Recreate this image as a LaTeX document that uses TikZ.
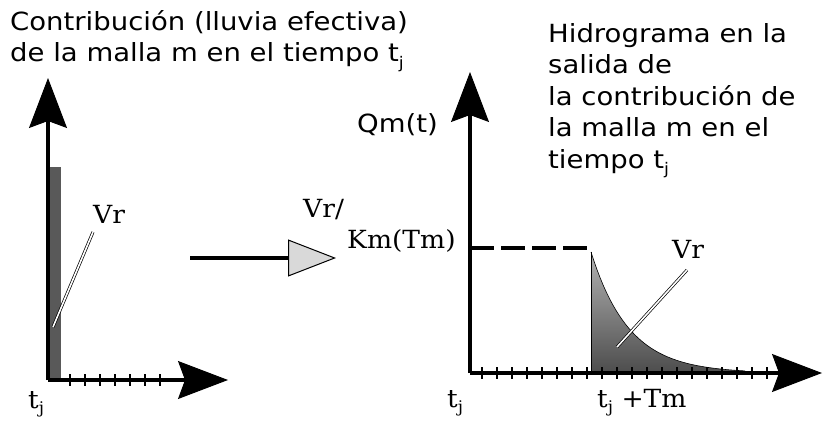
\documentclass[tikz,border=0pt]{standalone}
\usepackage{fontspec}
\setmainfont[FakeStretch=1.1]{DejaVu Sans}
\newfontfamily\labfont[FakeStretch=1.06]{DejaVu Serif}
\usetikzlibrary{arrows.meta, positioning}
\newcommand{\tj}{t\raisebox{-.45ex}{\fontsize{16}{16}\selectfont j}}

\begin{document}
\begin{tikzpicture}[x=1pt, y=-1pt,
  txt/.style={font=\fontsize{25}{31.5}\selectfont, inner sep=0pt, align=left},
  lab/.style={font=\labfont\fontsize{25}{28}\selectfont, inner sep=0pt},
  ax/.style={line width=4pt, -{Stealth[length=50pt, width=38pt, inset=7pt, line width=1pt]}},
  tick/.style={line width=1.6pt},
  lead/.style={draw=black, line width=0.7pt, double=white, double distance=1.6pt},
  flow/.style={line width=4pt, -{Triangle[length=48pt, width=37pt, line width=1pt, fill=black!15]}},
  dashline/.style={line width=4pt, dash pattern=on 24pt off 7pt}]
\useasboundingbox (0,0) rectangle (826,420);

% left chart: rain contribution
\coordinate (o1) at (48,380);
\coordinate (y1) at (48,78);
\coordinate (x1) at (228,380);
\fill[black!65] (48,167) rectangle (61,380);
\draw[ax] (o1) -- (y1);
\draw[ax] (o1) -- (x1);
\foreach \t in {70,85,...,160}
  \draw[tick] (\t,374) -- (\t,386);
\coordinate (l1a) at (93,232);
\coordinate (l1b) at (53,327);
\draw[lead] (l1a) -- (l1b);
\node[lab, anchor=base west] (vr1) at (93,223) {Vr};
\node[lab, anchor=base west] (tj1) at (28,408) {\tj};
\node[txt, anchor=base west] (title1) at (10,62)
  {Contribución (lluvia efectiva)\\de la malla m en el tiempo \tj};

% transfer arrow
\coordinate (arrS) at (190,258);
\coordinate (arrE) at (336,258);
\draw[flow] (arrS) -- (arrE);
\node[lab, anchor=base west] (vrk) at (303,217) {Vr/};
\node[lab, anchor=base west] (km) at (347,248) {Km(Tm)};

% right chart: outlet hydrograph
\coordinate (o2) at (470,373);
\coordinate (y2) at (470,72);
\coordinate (x2) at (822,373);
\shade[top color=black!30, bottom color=black!70] (591,252)
  -- plot[domain=591:745, samples=50] (\x, {373-121*exp(-(\x-591)/38)})
  -- (745,373) -- (591,373) -- cycle;
\draw[line width=0.6pt] (591,252) -- plot[domain=591:745, samples=50] (\x, {373-121*exp(-(\x-591)/38)});
\draw[line width=0.6pt] (591,252) -- (591,373);
\coordinate (d1) at (470,248);
\coordinate (d2) at (587,248);
\draw[dashline] (d1) -- (d2);
\draw[ax] (o2) -- (y2);
\draw[ax] (o2) -- (x2);
\foreach \t in {482,497,...,767}
  \draw[tick] (\t,367) -- (\t,379);
\coordinate (l2a) at (687,270);
\coordinate (l2b) at (617,347);
\draw[lead] (l2a) -- (l2b);
\node[lab, anchor=base west] (vr2) at (672,258) {Vr};
\node[txt, anchor=base west] (qm) at (357,132) {Qm(t)};
\node[lab, anchor=base west] (tj2) at (447,407) {\tj};
\node[lab, anchor=base west] (tjtm) at (597,407) {\tj\ +Tm};
\node[txt, anchor=base west] (title2) at (548,168)
  {Hidrograma en la\\salida de\\la contribución de\\la malla m en el\\tiempo \tj};
\end{tikzpicture}
\end{document}
